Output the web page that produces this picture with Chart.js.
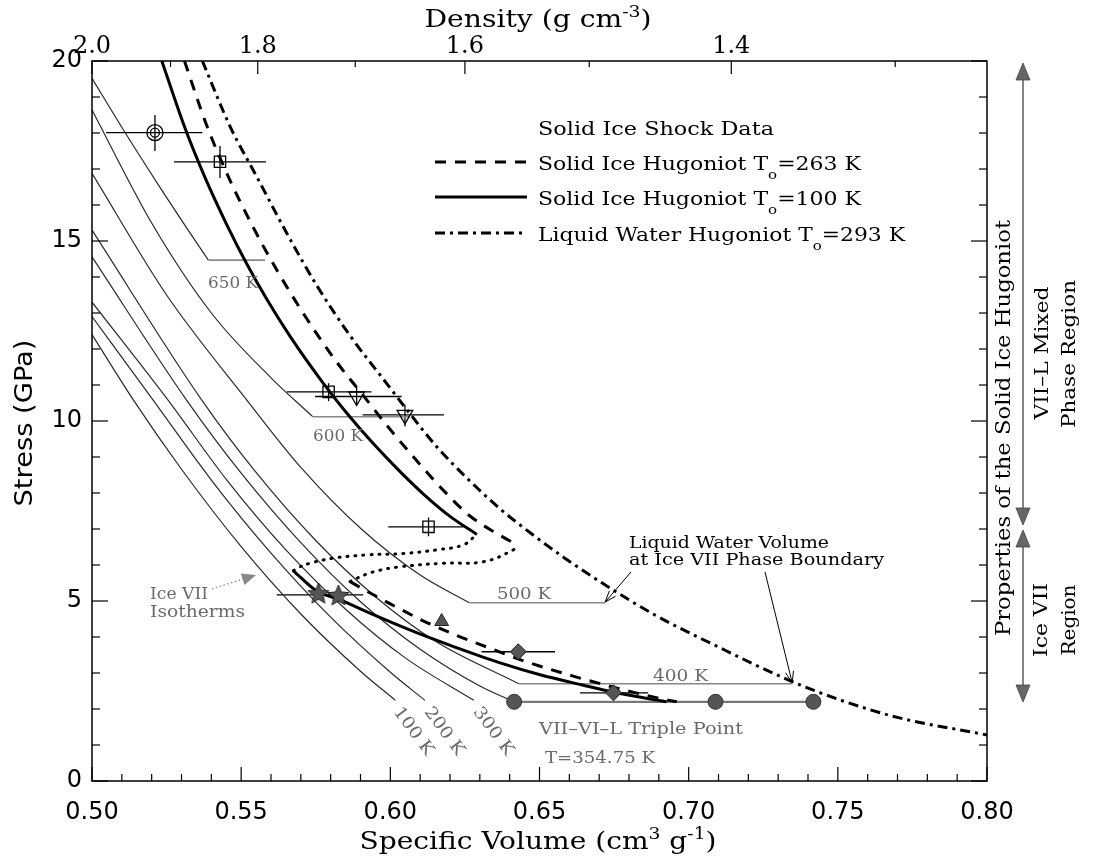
<!DOCTYPE html>
<html><head><meta charset="utf-8">
<script src="https://cdn.jsdelivr.net/npm/chart.js@4.4.1/dist/chart.umd.min.js"></script>
<style>html,body{margin:0;padding:0;background:#fff;}canvas{display:block;}</style>
</head><body>
<canvas id="chart" width="1096" height="858"></canvas>
<script>
// ---------- tick labels ----------
const volumeTicks = [0.50, 0.55, 0.60, 0.65, 0.70, 0.75, 0.80];
const densityTicks = [2.0, 1.8, 1.6, 1.4];
const densityMinorTicks = [1.9, 1.7, 1.5, 1.3];
const stressTicks = [0, 5, 10, 15, 20];

// ---------- Ice VII isotherms (specific volume, stress) ----------
const iso100K = [[0.5,12.4],[0.5139,10.58],[0.53,8.66],[0.55,6.51],[0.57,4.64],[0.59,3.05],[0.6017,2.24]];
const iso200K = [[0.5,12.9],[0.5205,10.58],[0.54,8.36],[0.56,6.33],[0.58,4.55],[0.60,3.02],[0.6116,2.24]];
const iso300K = [[0.5,13.3],[0.5255,10.58],[0.545,8.38],[0.565,6.42],[0.585,4.77],[0.605,3.42],[0.628,2.24]];
const iso355K = [[0.5,14.56],[0.5317,10.58],[0.55,8.55],[0.57,6.62],[0.59,4.98],[0.61,3.66],[0.63,2.64],[0.6415,2.2]];
const iso400K = [[0.5,15.3],[0.5368,10.58],[0.555,8.57],[0.575,6.68],[0.595,5.12],[0.615,3.89],[0.6431,2.70]];
const iso500K = [[0.5,16.88],[0.525,13.5],[0.5519,10.58],[0.57,8.71],[0.59,7.02],[0.61,5.72],[0.6265,4.95]];
const iso600K = [[0.5,18.64],[0.52,15.5],[0.54,13.0],[0.56,11.2],[0.574,10.12]];
const iso650K = [[0.5,19.52],[0.5105,18.09],[0.5217,16.63],[0.5329,15.22],[0.539,14.47]];
// phase-boundary shelves of the isotherms
const shelf650K = [[0.539,14.47],[0.558,14.47]];
const shelf600K = [[0.574,10.12],[0.6066,10.12]];
const shelf500K = [[0.6265,4.95],[0.672,4.95]];
const shelf400K = [[0.6431,2.70],[0.7347,2.70]];
const triplePointLine = [[0.6415,2.2],[0.7418,2.2]];

// ---------- Hugoniots ----------
const hug100Upper = [[0.5234,20.0],[0.5312,18.13],[0.5379,16.76],[0.5452,15.45],[0.5519,14.36],[0.5586,13.38],[0.5664,12.35],[0.5776,11.04],[0.5865,10.11],[0.5932,9.47],[0.6021,8.69],[0.6111,7.97],[0.62,7.35],[0.629,6.85]];
const hug100Lower = [[0.5675,5.84],[0.5753,5.28],[0.5826,5.05],[0.5943,4.62],[0.6088,4.12],[0.6223,3.70],[0.6368,3.28],[0.6502,2.95],[0.6647,2.66],[0.6759,2.45],[0.6882,2.26],[0.6926,2.20]];
const hug263Upper = [[0.5310,20.0],[0.5384,18.22],[0.5463,16.68],[0.5541,15.37],[0.5619,14.2],[0.5720,12.84],[0.5820,11.64],[0.5909,10.71],[0.5999,9.77],[0.6088,8.90],[0.6177,8.08],[0.6267,7.36],[0.6356,6.88],[0.6424,6.56]];
const hug263Lower = [[0.5865,5.54],[0.5909,5.33],[0.600,4.92],[0.611,4.45],[0.622,4.05],[0.633,3.70],[0.646,3.30],[0.661,2.92],[0.676,2.58],[0.690,2.30],[0.696,2.20]];
const hugLiquid = [[0.537,20.0],[0.5463,18.18],[0.5552,16.79],[0.5652,15.23],[0.5753,13.77],[0.5865,12.37],[0.5988,11.04],[0.6066,10.2],[0.6155,9.29],[0.6256,8.42],[0.6368,7.56],[0.6479,6.83],[0.6585,6.19],[0.6723,5.43],[0.6887,4.61],[0.7088,3.77],[0.7339,2.79],[0.7515,2.23],[0.7703,1.76],[0.8,1.28]];
const mixedBoundary100 = [[0.5675,5.84],[0.5686,5.91],[0.5731,6.05],[0.5809,6.19],[0.5921,6.28],[0.6044,6.32],[0.6155,6.42],[0.6245,6.56],[0.629,6.85]];
const mixedBoundary263 = [[0.5865,5.54],[0.5887,5.63],[0.5943,5.81],[0.6032,5.95],[0.6178,6.05],[0.6312,6.09],[0.6412,6.42],[0.6424,6.56]];

// ---------- solid ice shock data ----------
const shockTarget = [[0.5211,18.01]];
const shockSquares = [[0.5429,17.2],[0.5793,10.81],[0.6128,7.06]];
const shockDownTriangles = [[0.5887,10.68],[0.6049,10.17]];
const shockStars = [[0.5759,5.19],[0.5826,5.14]];
const shockTriangle = [[0.6172,4.43]];
const shockDiamonds = [[0.6429,3.59],[0.6748,2.45]];
const triplePoints = [[0.6415,2.2],[0.709,2.2],[0.7418,2.2]];
// horizontal error bars [stress, vLow, vHigh]
const errV = [[18.01,0.5047,0.5370],[17.2,0.5275,0.5583],[10.81,0.5653,0.5937],[10.68,0.5748,0.6038],[10.17,0.5907,0.618],[7.06,0.5993,0.6245],[5.17,0.5619,0.5909],[3.59,0.6306,0.6552],[2.45,0.6636,0.6864]];
// vertical error bars [volume, pLow, pHigh]
const errP = [[0.5211,17.5,18.5],[0.5429,16.75,17.64],[0.5793,10.55,11.05],[0.5887,10.45,10.95],[0.6049,9.85,10.45],[0.6128,6.8,7.32]];

// ---------- helpers ----------
const pts = a => a.map(([x, y]) => ({x, y}));
function curve(label, arr, st) {
  return Object.assign({label, data: pts(arr), showLine: true, pointRadius: 0, pointHoverRadius: 0,
    fill: false, borderColor: '#000', borderWidth: 1.2, cubicInterpolationMode: 'monotone'}, st);
}
function marks(label, arr, st) {
  return Object.assign({label, data: pts(arr), showLine: false, pointHoverRadius: 0}, st);
}
function starImage(r, fill) {
  const c = document.createElement('canvas'); c.width = c.height = 2 * r + 4;
  const g = c.getContext('2d'); g.translate(r + 2, r + 2); g.beginPath();
  for (let i = 0; i < 10; i++) {
    const a = -Math.PI / 2 + i * Math.PI / 5, rr = i % 2 ? r * 0.45 : r;
    g.lineTo(rr * Math.cos(a), rr * Math.sin(a));
  }
  g.closePath(); g.fillStyle = fill; g.fill(); g.strokeStyle = '#222'; g.lineWidth = 1; g.stroke();
  return c;
}
function drawRich(ctx, parts, x, y, o) {
  ctx.save();
  const base = o.size, fam = o.family || '"DejaVu Serif"';
  const fontFor = p => `${o.bold ? 'bold ' : ''}${(p.sup || p.sub) ? Math.round(base * 0.66) : base}px ${fam}`;
  let total = 0;
  parts.forEach(p => { ctx.font = fontFor(p); p.w = ctx.measureText(p.t).width; total += p.w; });
  const sx = o.width ? o.width / total : 1;
  ctx.translate(x, y);
  if (o.rot) ctx.rotate(o.rot);
  ctx.scale(sx, 1);
  let cx = o.align === 'center' ? -total / 2 : 0;
  ctx.fillStyle = o.color || '#000';
  ctx.textBaseline = 'alphabetic';
  parts.forEach(p => {
    ctx.font = fontFor(p);
    const dy = p.sup ? -base * 0.42 : p.sub ? base * 0.5 : 0;
    ctx.fillText(p.t, cx, dy + base * 0.36);
    cx += p.w;
  });
  ctx.restore();
}
const T = (t) => ({t});
function arrowHead(ctx, x, y, dir, w, h, fill) {
  ctx.beginPath(); ctx.moveTo(x, y); ctx.lineTo(x - w / 2, y - dir * h); ctx.lineTo(x + w / 2, y - dir * h);
  ctx.closePath(); ctx.fillStyle = fill; ctx.fill(); ctx.strokeStyle = '#444'; ctx.lineWidth = 0.8; ctx.stroke();
}
function line(ctx, x1, y1, x2, y2) { ctx.beginPath(); ctx.moveTo(x1, y1); ctx.lineTo(x2, y2); ctx.stroke(); }

const GRAY = '#555';
const isoStyle = {borderColor: '#2a2a2a', borderWidth: 1.2};
const shelfStyle = {borderColor: '#888', borderWidth: 1.6, cubicInterpolationMode: 'default', tension: 0};

const datasets = [
  marks('target outer', shockTarget, {pointStyle: 'circle', pointRadius: 8, pointBorderColor: '#000', pointBackgroundColor: 'rgba(0,0,0,0)', pointBorderWidth: 1.3}),
  marks('target inner', shockTarget, {pointStyle: 'circle', pointRadius: 4.5, pointBorderColor: '#000', pointBackgroundColor: 'rgba(0,0,0,0)', pointBorderWidth: 1.3}),
  marks('squares', shockSquares, {pointStyle: 'rect', pointRadius: 8, pointBorderColor: '#000', pointBackgroundColor: 'rgba(255,255,255,0)', pointBorderWidth: 1.3}),
  marks('down triangles', shockDownTriangles, {pointStyle: 'triangle', rotation: 180, pointRadius: 9, pointBorderColor: '#000', pointBackgroundColor: 'rgba(255,255,255,0)', pointBorderWidth: 1.3}),
  marks('stars', shockStars, {pointStyle: starImage(11, GRAY)}),
  marks('triangle', shockTriangle, {pointStyle: 'triangle', pointRadius: 8, pointBorderColor: '#222', pointBackgroundColor: GRAY, pointBorderWidth: 1}),
  marks('diamonds', shockDiamonds, {pointStyle: 'rectRot', pointRadius: 8, pointBorderColor: '#222', pointBackgroundColor: GRAY, pointBorderWidth: 1}),
  marks('triple points', triplePoints, {pointStyle: 'circle', pointRadius: 7.5, pointBorderColor: '#333', pointBackgroundColor: GRAY, pointBorderWidth: 1}),
  curve('Solid Ice Hugoniot To=100 K', hug100Upper, {borderWidth: 3}),
  curve('Solid Ice Hugoniot To=100 K (lower)', hug100Lower, {borderWidth: 3}),
  curve('Solid Ice Hugoniot To=263 K', hug263Upper, {borderWidth: 3, borderDash: [11, 9]}),
  curve('Solid Ice Hugoniot To=263 K (lower)', hug263Lower, {borderWidth: 3, borderDash: [11, 9]}),
  curve('Liquid Water Hugoniot To=293 K', hugLiquid, {borderWidth: 3, borderDash: [10, 5, 3, 5]}),
  curve('mixed boundary 100', mixedBoundary100, {borderWidth: 3, borderDash: [1, 7], borderCapStyle: 'round', cubicInterpolationMode: 'default', tension: 0.4}),
  curve('mixed boundary 263', mixedBoundary263, {borderWidth: 3, borderDash: [1, 7], borderCapStyle: 'round', cubicInterpolationMode: 'default', tension: 0.4}),
  curve('triple line', triplePointLine, {borderColor: '#777', borderWidth: 2.2, cubicInterpolationMode: 'default', tension: 0}),
  curve('shelf 650', shelf650K, shelfStyle), curve('shelf 600', shelf600K, shelfStyle),
  curve('shelf 500', shelf500K, shelfStyle), curve('shelf 400', shelf400K, shelfStyle),
  curve('100 K', iso100K, isoStyle), curve('200 K', iso200K, isoStyle),
  curve('300 K', iso300K, isoStyle), curve('354.75 K', iso355K, isoStyle), curve('400 K', iso400K, isoStyle),
  curve('500 K', iso500K, isoStyle), curve('600 K', iso600K, isoStyle), curve('650 K', iso650K, isoStyle)
];

const decor = {
  id: 'decor',
  beforeDatasetsDraw(chart) {
    const ctx = chart.ctx, xs = chart.scales.x, ys = chart.scales.y;
    ctx.save(); ctx.strokeStyle = '#000'; ctx.lineWidth = 1.3;
    errV.forEach(([p, a, b]) => line(ctx, xs.getPixelForValue(a), ys.getPixelForValue(p), xs.getPixelForValue(b), ys.getPixelForValue(p)));
    errP.forEach(([v, a, b]) => line(ctx, xs.getPixelForValue(v), ys.getPixelForValue(a), xs.getPixelForValue(v), ys.getPixelForValue(b)));
    ctx.restore();
  },
  afterDraw(chart) {
    const ctx = chart.ctx, xs = chart.scales.x, ys = chart.scales.y;
    const {left, right, top, bottom} = chart.chartArea;
    const X = v => xs.getPixelForValue(v), Y = p => ys.getPixelForValue(p);
    ctx.save();
    // frame + inward ticks
    ctx.strokeStyle = '#000'; ctx.lineWidth = 1.5;
    ctx.strokeRect(left, top, right - left, bottom - top);
    ctx.lineWidth = 1.2;
    for (let i = 0; i <= 30; i++) {
      const px = X(volumeTicks[0] + i * 0.01), len = i % 5 === 0 ? 14 : 7;
      line(ctx, px, bottom, px, bottom - len);
    }
    densityTicks.forEach(d => { const px = X(1 / d); line(ctx, px, top, px, top + 13); });
    densityMinorTicks.forEach(d => { const px = X(1 / d); line(ctx, px, top, px, top + 6); });
    for (let p = 0; p <= 20; p++) {
      const py = Y(p), len = p % 5 === 0 ? 16 : 8;
      line(ctx, left, py, left + len, py); line(ctx, right, py, right - len, py);
    }
    // axis titles
    drawRich(ctx, [T('Density (g cm'), {t: '-3', sup: true}, T(')')], 538, 18, {size: 24, width: 227, align: 'center'});
    drawRich(ctx, [T('Specific Volume (cm'), {t: '3', sup: true}, T(' g'), {t: '-1', sup: true}, T(')')], 538, 840, {size: 24, width: 357, align: 'center'});
    drawRich(ctx, [T('Stress (GPa)')], 23, 423, {size: 24, width: 167, align: 'center', rot: -Math.PI / 2, family: '"DejaVu Sans"'});
    // legend
    drawRich(ctx, [T('Solid Ice Shock Data')], 538, 128, {size: 19, width: 236});
    ctx.strokeStyle = '#000'; ctx.lineWidth = 3;
    ctx.setLineDash([11, 9]); line(ctx, 435, 162, 527, 162);
    ctx.setLineDash([]); line(ctx, 435, 197, 527, 197);
    ctx.setLineDash([10, 5, 3, 5]); line(ctx, 435, 233, 527, 233);
    ctx.setLineDash([]);
    drawRich(ctx, [T('Solid Ice Hugoniot T'), {t: 'o', sub: true}, T('=263 K')], 538, 163, {size: 19, width: 323});
    drawRich(ctx, [T('Solid Ice Hugoniot T'), {t: 'o', sub: true}, T('=100 K')], 538, 198, {size: 19, width: 323});
    drawRich(ctx, [T('Liquid Water Hugoniot T'), {t: 'o', sub: true}, T('=293 K')], 538, 234, {size: 19, width: 367});
    // isotherm labels
    const gray = '#6a6a6a';
    drawRich(ctx, [T('650 K')], 208, 282, {size: 17, width: 50, color: gray});
    drawRich(ctx, [T('600 K')], 313, 435, {size: 17, width: 50, color: gray});
    drawRich(ctx, [T('500 K')], 497, 593, {size: 17, width: 54, color: gray});
    drawRich(ctx, [T('400 K')], 653, 675, {size: 17, width: 55, color: gray});
    [['100 K', 414.6], ['200 K', 445.4], ['300 K', 494.5]].forEach(([s, x]) =>
      drawRich(ctx, [T(s)], x, 730.5, {size: 17, width: 56, color: gray, align: 'center', rot: 0.93}));
    drawRich(ctx, [T('VII\u2013VI\u2013L Triple Point')], 539, 728, {size: 17, width: 204, color: gray});
    drawRich(ctx, [T('T=354.75 K')], 545, 757, {size: 17, width: 110, color: gray});
    drawRich(ctx, [T('Ice VII')], 150, 593, {size: 16, width: 58, color: gray});
    drawRich(ctx, [T('Isotherms')], 150, 611, {size: 16, width: 95, color: gray});
    ctx.strokeStyle = '#888'; ctx.lineWidth = 1.2; ctx.setLineDash([1.5, 2.5]);
    line(ctx, 212, 589, 246, 578); ctx.setLineDash([]);
    ctx.save(); ctx.translate(256, 575); ctx.rotate(Math.atan2(-11, 34));
    ctx.beginPath(); ctx.moveTo(0, 0); ctx.lineTo(-14, -6); ctx.lineTo(-14, 6); ctx.closePath();
    ctx.fillStyle = '#888'; ctx.fill(); ctx.restore();
    // liquid water volume annotation
    drawRich(ctx, [T('Liquid Water Volume')], 629, 542, {size: 17, width: 200});
    drawRich(ctx, [T('at Ice VII Phase Boundary')], 629, 559, {size: 17, width: 255});
    ctx.strokeStyle = '#000'; ctx.lineWidth = 1;
    const openArrow = (x1, y1, x2, y2) => {
      line(ctx, x1, y1, x2, y2);
      const a = Math.atan2(y2 - y1, x2 - x1), L = 12, s = 0.35;
      line(ctx, x2, y2, x2 - L * Math.cos(a - s), y2 - L * Math.sin(a - s));
      line(ctx, x2, y2, x2 - L * Math.cos(a + s), y2 - L * Math.sin(a + s));
    };
    openArrow(631, 572, X(0.672), Y(4.97));
    openArrow(765, 572, X(0.7347), Y(2.73));
    // right-hand annotations
    drawRich(ctx, [T('Properties of the Solid Ice Hugoniot')], 1003, 428, {size: 20, width: 416, align: 'center', rot: -Math.PI / 2});
    ctx.strokeStyle = '#333'; ctx.lineWidth = 1.2;
    line(ctx, 1023, 70, 1023, 515); line(ctx, 1023, 538, 1023, 694);
    arrowHead(ctx, 1023, 63, -1, 14, 17, '#666');
    arrowHead(ctx, 1023, 525, 1, 14, 17, '#666');
    arrowHead(ctx, 1023, 530, -1, 14, 17, '#666');
    arrowHead(ctx, 1023, 702, 1, 14, 17, '#666');
    drawRich(ctx, [T('VII\u2013L Mixed')], 1041, 353, {size: 19, width: 133, align: 'center', rot: -Math.PI / 2});
    drawRich(ctx, [T('Phase Region')], 1068, 354, {size: 19, width: 148, align: 'center', rot: -Math.PI / 2});
    drawRich(ctx, [T('Ice VII')], 1040, 620, {size: 19, width: 74, align: 'center', rot: -Math.PI / 2});
    drawRich(ctx, [T('Region')], 1068, 620, {size: 19, width: 71, align: 'center', rot: -Math.PI / 2});
    ctx.restore();
  }
};

new Chart(document.getElementById('chart'), {
  type: 'scatter',
  data: {datasets},
  plugins: [decor],
  options: {
    responsive: false, animation: false, devicePixelRatio: 1,
    layout: {padding: {left: 0, right: 109, top: 0, bottom: 0}},
    plugins: {legend: {display: false}, tooltip: {enabled: false}},
    scales: {
      x: {type: 'linear', position: 'bottom', min: 0.5, max: 0.8,
        afterBuildTicks: s => { s.ticks = volumeTicks.map(v => ({value: v})); },
        ticks: {callback: v => Number(v).toFixed(2), font: {family: 'DejaVu Sans', size: 24}, color: '#000', padding: 17, autoSkip: false, maxRotation: 0},
        grid: {display: false, drawTicks: false}, border: {display: false},
        afterFit: s => { s.height = 77; }},
      xTop: {type: 'linear', position: 'top', min: 0.5, max: 0.8,
        afterBuildTicks: s => { s.ticks = densityTicks.map(d => ({value: 1 / d})); },
        ticks: {callback: v => (1 / v).toFixed(1), font: {family: 'DejaVu Serif', size: 24}, color: '#000', padding: 0, autoSkip: false, maxRotation: 0},
        grid: {display: false, drawTicks: false}, border: {display: false},
        afterFit: s => { s.height = 61; }},
      y: {type: 'linear', position: 'left', min: 0, max: 20,
        afterBuildTicks: s => { s.ticks = stressTicks.map(p => ({value: p})); },
        ticks: {font: {family: 'DejaVu Sans', size: 24}, color: '#000', padding: 10, autoSkip: false},
        grid: {display: false, drawTicks: false}, border: {display: false},
        afterFit: s => { s.width = 92; }}
    }
  }
});
</script>
</body></html>
